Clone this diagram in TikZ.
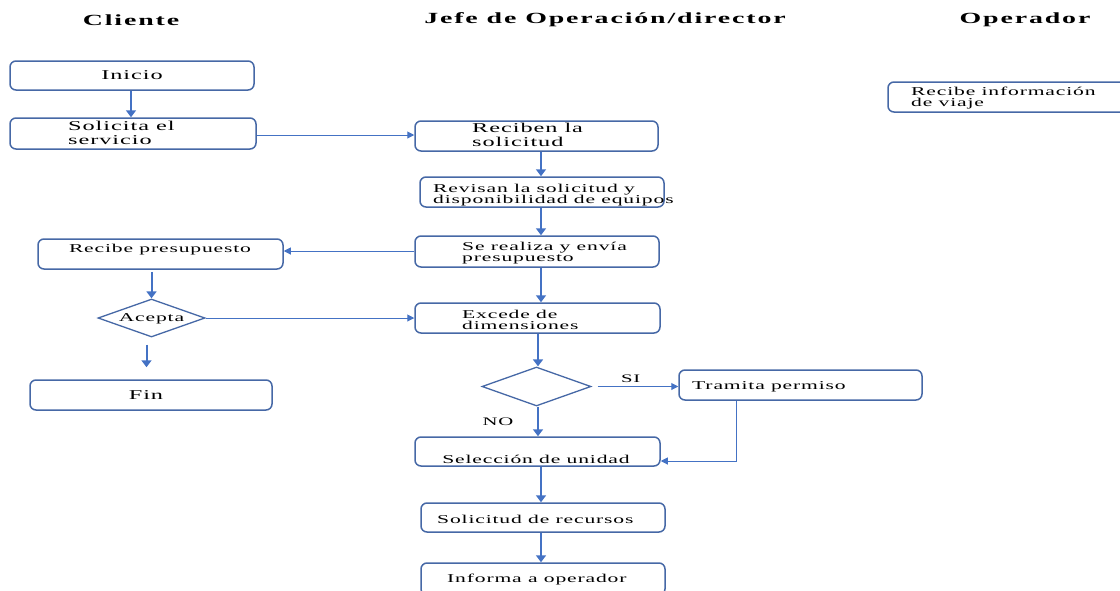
\documentclass[tikz,border=0pt]{standalone}
\usepackage{fontspec}
\setmainfont{Liberation Serif}[FakeStretch=1.8,LetterSpace=7]
\newfontfamily\headfont{Liberation Serif}[FakeStretch=1.8,LetterSpace=12]
\usetikzlibrary{shapes.geometric,arrows.meta}
\definecolor{flow}{RGB}{68,114,196}
\definecolor{edge}{RGB}{70,104,166}
\tikzset{
  box/.style={draw=edge, line width=1.5pt, rounded corners=6pt, fill=white, inner sep=0pt},
  dia/.style={diamond, draw=edge, line width=1.3pt, fill=white, inner sep=0pt},
  txt/.style={font=\fontsize{12}{11}\selectfont, align=left, inner sep=0pt},
  big/.style={font=\fontsize{13.5}{14}\selectfont, align=left, inner sep=0pt},
  ttl/.style={font=\headfont\fontsize{15.5}{18}\selectfont\bfseries, inner sep=0pt},
  fat/.style={draw=flow, line width=2pt, -{Triangle[length=7pt,width=10pt]}},
  slim/.style={draw=flow, line width=1pt, -{Triangle[length=7pt,width=7pt]}},
  lbl/.style={font=\fontsize{11.5}{12}\selectfont, inner sep=0pt}
}
\begin{document}
\begin{tikzpicture}[x=1pt,y=-1pt]
\useasboundingbox (0,0) rectangle (1120,590);

% lane titles
\node[ttl] (tcli) at (131,20) {Cliente};
\node[ttl] (tjef) at (605,20) {Jefe de Operación/director};
\node[ttl] (topr) at (1025,20) {Operador};

% Cliente lane
\node[box, minimum width=244, minimum height=29] (ini) at (132,75.5) {};
\node[big] (ini-t) at (132,75) {Inicio};
\node[box, minimum width=246, minimum height=31] (sol) at (133,133.5) {};
\node[big, anchor=west] (sol-t) at (68,133) {Solicita el\\servicio};
\node[box, minimum width=245, minimum height=30] (recp) at (160.5,254) {};
\node[txt] (recp-t) at (160,249.5) {Recibe presupuesto};
\node[dia, minimum width=107, minimum height=38] (acep) at (151.5,318) {};
\node[txt] (acep-t) at (151.5,319) {Acepta};
\node[box, minimum width=242, minimum height=30] (fin) at (151,395) {};
\node[big] (fin-t) at (146,395) {Fin};

% Jefe de operación lane
\node[box, minimum width=243, minimum height=30] (rec) at (536.5,136) {};
\node[big, anchor=west] (rec-t) at (472,135) {Reciben la\\solicitud};
\node[box, minimum width=244, minimum height=30] (rev) at (542,192) {};
\node[txt, anchor=west] (rev-t) at (433,195.5) {Revisan la solicitud y\\disponibilidad de equipos};
\node[box, minimum width=244, minimum height=31] (ser) at (537,251.5) {};
\node[txt, anchor=west] (ser-t) at (462,253.5) {Se realiza y envía\\presupuesto};
\node[box, minimum width=245, minimum height=30] (exc) at (537.5,318) {};
\node[txt, anchor=west] (exc-t) at (462,319.5) {Excede de\\dimensiones};
\node[dia, minimum width=109, minimum height=39] (dec) at (536.5,386.5) {};
\node[box, minimum width=243, minimum height=30] (tram) at (800.5,385) {};
\node[txt, anchor=west] (tram-t) at (692,387) {Tramita permiso};
\node[box, minimum width=245, minimum height=29] (sel) at (537.5,451.5) {};
\node[txt] (sel-t) at (536,459) {Selección de unidad};
\node[box, minimum width=244, minimum height=29] (srec) at (543,517.5) {};
\node[txt, anchor=west] (srec-t) at (437,519) {Solicitud de recursos};
\node[box, minimum width=244, minimum height=32] (inf) at (543,579) {};
\node[txt, anchor=west] (inf-t) at (447,580) {Informa a operador};

% Operador lane
\node[box, minimum width=262, minimum height=30] (via) at (1019,97) {};
\node[txt, anchor=west] (via-t) at (911,98) {Recibe información\\de viaje};

% connectors
\draw[fat] (ini.south -| 131,0) -- (sol.north -| 131,0);
\draw[slim] (sol.east |- 0,135) -- (rec.west |- 0,135);
\draw[fat] (rec.south -| 541,0) -- (rev.north -| 541,0);
\draw[fat] (rev.south -| 541,0) -- (ser.north -| 541,0);
\draw[slim] (ser.west |- 0,251) -- (recp.east |- 0,251);
\draw[fat, shorten <=2pt] (recp.south -| acep.north) -- (acep.north);
\draw[slim] (acep.east) -- (acep.east -| exc.west);
\draw[fat, shorten <=7pt, shorten >=12pt] ([xshift=-5pt]acep.south) -- ([xshift=-5pt]acep.south |- fin.north);
\draw[fat] (ser.south -| 541,0) -- (exc.north -| 541,0);
\draw[fat] (exc.south -| 538,0) -- (dec.north -| 538,0);
\draw[slim, shorten <=6pt] (dec.east) -- (dec.east -| tram.west)
  node[lbl, pos=0.45, above=3pt] (si) {SI};
\draw[fat] (dec.south -| 538,0) -- (sel.north -| 538,0);
\node[lbl] (no) at (498,422) {NO};
\draw[slim] (tram.south -| 736,0) |- (sel.east |- 0,461);
\draw[fat] (sel.south -| 541,0) -- (srec.north -| 541,0);
\draw[fat] (srec.south -| 541,0) -- (inf.north -| 541,0);
\end{tikzpicture}
\end{document}
